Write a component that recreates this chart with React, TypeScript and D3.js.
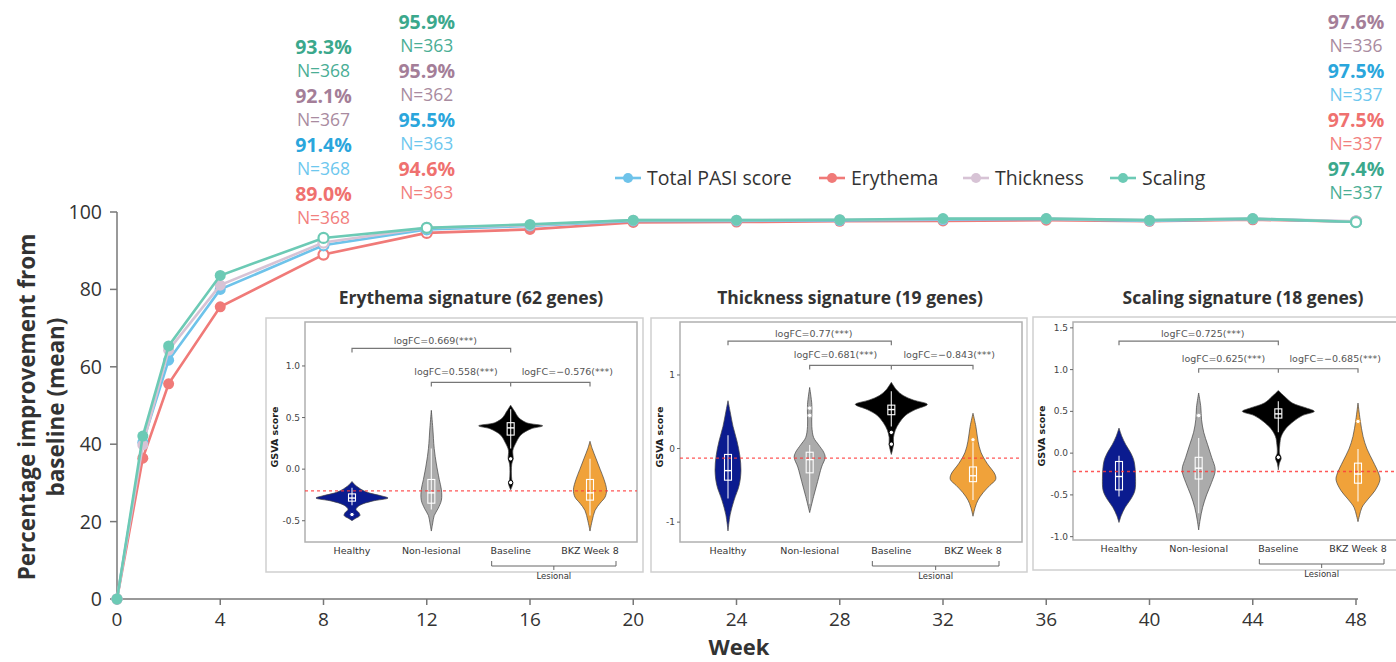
import React from 'react';
import * as d3 from 'd3';

// ---- main chart data ----
const weeks = [0, 1, 2, 4, 8, 12, 16, 20, 24, 28, 32, 36, 40, 44, 48];
const totalPasi = [0, 40.5, 61.7, 80.0, 91.4, 95.5, 96.4, 97.7, 97.7, 97.8, 98.0, 98.2, 97.7, 98.2, 97.5];
const erythema = [0, 36.4, 55.6, 75.5, 89.0, 94.6, 95.5, 97.3, 97.4, 97.6, 97.7, 97.9, 97.6, 98.0, 97.5];
const thickness = [0, 39.8, 64.3, 81.1, 92.1, 95.9, 96.6, 97.9, 97.9, 98.0, 98.2, 98.3, 97.9, 98.3, 97.6];
const scaling = [0, 42.1, 65.4, 83.6, 93.3, 95.9, 96.8, 97.9, 97.9, 98.0, 98.3, 98.3, 97.9, 98.3, 97.4];
const openWeeks = [8, 12, 48];

const seriesNames = ['Total PASI score', 'Erythema', 'Thickness', 'Scaling'];
const seriesValues = [totalPasi, erythema, thickness, scaling];
const lineColors = ['#6ec3ea', '#f07a78', '#d7c3d5', '#6ccab5'];
const pctColors = ['#2aa6dc', '#ef716f', '#a47e98', '#3ba88c'];
const nColors = ['#6dc7ee', '#f2807e', '#a98ba0', '#4aae95'];

const xTicks = [0, 4, 8, 12, 16, 20, 24, 28, 32, 36, 40, 44, 48];
const yTicks = [0, 20, 40, 60, 80, 100];

// annotation columns above the lines
const annotWeeks = [8, 12, 48];
const annotOrder = [[3, 2, 0, 1], [3, 2, 0, 1], [2, 0, 1, 3]];
const annotPct = [
  ['93.3%', '92.1%', '91.4%', '89.0%'],
  ['95.9%', '95.9%', '95.5%', '94.6%'],
  ['97.6%', '97.5%', '97.5%', '97.4%'],
];
const annotN = [
  ['N=368', 'N=367', 'N=368', 'N=368'],
  ['N=363', 'N=362', 'N=363', 'N=363'],
  ['N=336', 'N=337', 'N=337', 'N=337'],
];

// ---- inset data (GSVA violins) ----
const groups = ['Healthy', 'Non-lesional', 'Baseline', 'BKZ Week 8'];
const groupColors = ['#0b1b8f', '#ababab', '#000000', '#f0a23a'];

// [GSVA value, relative density]
const erythemaViolins = [
  [[-0.12, 0], [-0.16, 0.11], [-0.22, 0.39], [-0.26, 0.83], [-0.28, 1], [-0.31, 0.56], [-0.35, 0.22], [-0.39, 0.11], [-0.42, 0.19], [-0.45, 0.22], [-0.48, 0.08], [-0.5, 0]],
  [[0.57, 0], [0.4, 0.04], [0.2, 0.08], [0.05, 0.14], [-0.1, 0.22], [-0.2, 0.28], [-0.3, 0.28], [-0.38, 0.19], [-0.45, 0.08], [-0.52, 0.04], [-0.6, 0]],
  [[0.62, 0], [0.56, 0.11], [0.5, 0.22], [0.45, 0.44], [0.42, 0.89], [0.39, 0.56], [0.33, 0.28], [0.25, 0.14], [0.18, 0.06], [0.1, 0.07], [0.05, 0.03], [-0.1, 0.03], [-0.14, 0.06], [-0.2, 0]],
  [[0.27, 0], [0.2, 0.06], [0.1, 0.17], [0, 0.28], [-0.1, 0.39], [-0.2, 0.46], [-0.27, 0.42], [-0.33, 0.28], [-0.4, 0.14], [-0.5, 0.06], [-0.6, 0]],
];
const erythemaBoxes = [[-0.35, -0.31, -0.28, -0.24, -0.18], [-0.39, -0.33, -0.23, -0.1, 0.2], [0.2, 0.33, 0.4, 0.45, 0.58], [-0.45, -0.3, -0.23, -0.1, 0.1]];
const erythemaOutliers = [[-0.44], [], [0.1, -0.13], []];
const erythemaTicks = [1.0, 0.5, 0.0, -0.5];
const erythemaTickLabels = ['1.0', '0.5', '0.0', '-0.5'];
const erythemaRef = -0.21;
const erythemaLogFC = ['logFC=0.669(***)', 'logFC=0.558(***)', 'logFC=\u22120.576(***)'];
const erythemaBrackets = [1.17, 0.84];

const thicknessViolins = [
  [[0.65, 0], [0.5, 0.06], [0.3, 0.14], [0.1, 0.25], [-0.1, 0.33], [-0.3, 0.36], [-0.5, 0.31], [-0.7, 0.17], [-0.9, 0.06], [-1.12, 0]],
  [[0.83, 0], [0.6, 0.06], [0.45, 0.06], [0.3, 0.06], [0.15, 0.11], [0.05, 0.25], [-0.05, 0.39], [-0.12, 0.43], [-0.25, 0.33], [-0.45, 0.22], [-0.65, 0.11], [-0.87, 0]],
  [[0.9, 0], [0.8, 0.14], [0.72, 0.33], [0.66, 0.61], [0.6, 1], [0.53, 0.67], [0.45, 0.39], [0.35, 0.22], [0.25, 0.11], [0.15, 0.06], [0.05, 0.06], [-0.08, 0]],
  [[0.48, 0], [0.3, 0.08], [0.1, 0.14], [-0.05, 0.22], [-0.2, 0.39], [-0.35, 0.61], [-0.42, 0.63], [-0.5, 0.47], [-0.6, 0.28], [-0.7, 0.14], [-0.8, 0.06], [-0.92, 0]],
];
const thicknessBoxes = [[-0.68, -0.43, -0.3, -0.08, 0.18], [-0.75, -0.33, -0.15, -0.05, 0.05], [0.3, 0.46, 0.53, 0.59, 0.78], [-0.7, -0.45, -0.37, -0.25, 0.1]];
const thicknessOutliers = [[], [0.45, 0.55], [0.22, 0.06], [0.12]];
const thicknessTicks = [1, 0, -1];
const thicknessTickLabels = ['1', '0', '-1'];
const thicknessRef = -0.13;
const thicknessLogFC = ['logFC=0.77(***)', 'logFC=0.681(***)', 'logFC=\u22120.843(***)'];
const thicknessBrackets = [1.46, 1.13];

const scalingViolins = [
  [[0.3, 0], [0.2, 0.08], [0.1, 0.19], [0, 0.33], [-0.1, 0.42], [-0.3, 0.46], [-0.45, 0.44], [-0.55, 0.33], [-0.65, 0.17], [-0.75, 0.06], [-0.83, 0]],
  [[0.72, 0], [0.55, 0.06], [0.4, 0.08], [0.25, 0.14], [0.1, 0.25], [-0.05, 0.36], [-0.2, 0.46], [-0.35, 0.36], [-0.5, 0.22], [-0.65, 0.11], [-0.8, 0.04], [-0.92, 0]],
  [[0.75, 0], [0.68, 0.17], [0.6, 0.39], [0.54, 0.78], [0.5, 1], [0.45, 0.67], [0.38, 0.42], [0.3, 0.22], [0.2, 0.08], [0.1, 0.04], [0, 0.03], [-0.06, 0.08], [-0.12, 0.03], [-0.2, 0]],
  [[0.6, 0], [0.4, 0.06], [0.2, 0.14], [0.05, 0.25], [-0.1, 0.42], [-0.25, 0.58], [-0.32, 0.61], [-0.45, 0.47], [-0.55, 0.28], [-0.65, 0.11], [-0.75, 0.04], [-0.82, 0]],
];
const scalingBoxes = [[-0.52, -0.44, -0.28, -0.1, -0.03], [-0.72, -0.31, -0.18, -0.05, 0.18], [0.25, 0.42, 0.47, 0.53, 0.62], [-0.58, -0.36, -0.25, -0.12, 0.05]];
const scalingOutliers = [[], [0.45], [-0.05], [0.38]];
const scalingTicks = [1.5, 1.0, 0.5, 0.0, -0.5, -1.0];
const scalingTickLabels = ['1.5', '1.0', '0.5', '0.0', '-0.5', '-1.0'];
const scalingRef = -0.22;
const scalingLogFC = ['logFC=0.725(***)', 'logFC=0.625(***)', 'logFC=\u22120.685(***)'];
const scalingBrackets = [1.34, 1.01];

const insets = [
  {
    title: 'Erythema signature (62 genes)', violins: erythemaViolins, boxes: erythemaBoxes, outliers: erythemaOutliers,
    ticks: erythemaTicks, tickLabels: erythemaTickLabels, ref: erythemaRef, logFC: erythemaLogFC, brackets: erythemaBrackets,
    frame: [266, 318, 643, 572], plot: [305, 322, 637, 542], yDomain: [-0.706, 1.426], catRange: [352, 590], titleX: 471,
  },
  {
    title: 'Thickness signature (19 genes)', violins: thicknessViolins, boxes: thicknessBoxes, outliers: thicknessOutliers,
    ticks: thicknessTicks, tickLabels: thicknessTickLabels, ref: thicknessRef, logFC: thicknessLogFC, brackets: thicknessBrackets,
    frame: [651, 318, 1027, 572], plot: [680, 322, 1022, 542], yDomain: [-1.27, 1.72], catRange: [728, 973], titleX: 850,
  },
  {
    title: 'Scaling signature (18 genes)', violins: scalingViolins, boxes: scalingBoxes, outliers: scalingOutliers,
    ticks: scalingTicks, tickLabels: scalingTickLabels, ref: scalingRef, logFC: scalingLogFC, brackets: scalingBrackets,
    frame: [1033, 317, 1400, 570], plot: [1073, 322, 1400, 540], yDomain: [-1.04, 1.57], catRange: [1119, 1358], titleX: 1243,
  },
];

const mainFont = '"Open Sans", "Noto Sans", sans-serif';
const smallFont = '"DejaVu Sans", sans-serif';

function Inset({ p }: { p: any }) {
  const y = d3.scaleLinear().domain(p.yDomain).range([p.plot[3], p.plot[1]]);
  const x = d3.scalePoint<string>().domain(groups).range(p.catRange);
  const w = d3.scaleLinear().domain([0, 1]).range([0, 36]);
  const [fx0, fy0, fx1, fy1] = p.frame;
  const [px0, py0, px1, py1] = p.plot;
  const bx = (g: string) => x(g) as number;
  const b1 = y(p.brackets[0]);
  const b2 = y(p.brackets[1]);
  const lesL = bx(groups[2]) - 19;
  const lesR = bx(groups[3]) + 26;
  const lesY = py1 + 24;
  return (
    <g>
      <text x={p.titleX} y={304} textAnchor="middle" fontFamily={mainFont} fontWeight="bold" fontSize={17.5} fill="#333">{p.title}</text>
      <rect x={fx0} y={fy0} width={fx1 - fx0} height={fy1 - fy0} fill="#fff" stroke="#cfcfcf" strokeWidth={1.5} />
      <rect x={px0} y={py0} width={px1 - px0} height={py1 - py0} fill="#fff" stroke="#b0b0b0" strokeWidth={1.5} />
      {p.ticks.map((t: number, i: number) => (
        <g key={i}>
          <line x1={px0 - 3} x2={px0} y1={y(t)} y2={y(t)} stroke="#666" />
          <text x={px0 - 5} y={y(t) + 3} textAnchor="end" fontFamily={smallFont} fontSize={9} fill="#444">{p.tickLabels[i]}</text>
        </g>
      ))}
      <text transform={`translate(${fx0 + 12},${(py0 + py1) / 2 + 5}) rotate(-90)`} textAnchor="middle" fontFamily={smallFont} fontWeight="bold" fontSize={9.5} fill="#222">GSVA score</text>
      {groups.map((g, i) => {
        const area = d3.area<number[]>()
          .y(d => y(d[0]))
          .x0(d => bx(g) - w(d[1]))
          .x1(d => bx(g) + w(d[1]))
          .curve(d3.curveCatmullRom.alpha(0.5));
        const [lo, q1, med, q3, hi] = p.boxes[i];
        return (
          <g key={g}>
            <path d={area(p.violins[i]) || ''} fill={groupColors[i]} stroke="#444" strokeWidth={0.7} />
            <line x1={bx(g)} x2={bx(g)} y1={y(lo)} y2={y(hi)} stroke="#fff" strokeWidth={1.2} opacity={0.85} />
            <rect x={bx(g) - 3.5} y={y(q3)} width={7} height={y(q1) - y(q3)} fill="none" stroke="#fff" strokeWidth={1.1} />
            <line x1={bx(g) - 3.5} x2={bx(g) + 3.5} y1={y(med)} y2={y(med)} stroke="#fff" strokeWidth={1.4} />
            {p.outliers[i].map((o: number, k: number) => (
              <circle key={k} cx={bx(g)} cy={y(o)} r={2.2} fill="#fff" stroke={groupColors[i] === '#000000' ? '#000' : groupColors[i]} strokeWidth={1} />
            ))}
            <text x={bx(g)} y={py1 + 12} textAnchor="middle" fontFamily={smallFont} fontSize={9.5} fill="#333">{g}</text>
          </g>
        );
      })}
      <line x1={px0} x2={px1} y1={y(p.ref)} y2={y(p.ref)} stroke="#ff3b3b" strokeWidth={1.3} strokeDasharray="3,3" opacity={0.85} />
      <path d={`M${bx(groups[0])},${b1 + 4}V${b1}H${bx(groups[2])}V${b1 + 4}`} fill="none" stroke="#777" strokeWidth={1.2} />
      <path d={`M${bx(groups[1])},${b2 + 4}V${b2}H${bx(groups[3])}V${b2 + 4}M${bx(groups[2])},${b2}V${b2 + 4}`} fill="none" stroke="#777" strokeWidth={1.2} />
      <text x={(bx(groups[0]) + bx(groups[2])) / 2 + 4} y={b1 - 4} textAnchor="middle" fontFamily={smallFont} fontSize={9.5} fill="#555">{p.logFC[0]}</text>
      <text x={(bx(groups[1]) + bx(groups[2])) / 2 - 15} y={b2 - 7} textAnchor="middle" fontFamily={smallFont} fontSize={9.5} fill="#555">{p.logFC[1]}</text>
      <text x={(bx(groups[2]) + bx(groups[3])) / 2 + 17} y={b2 - 7} textAnchor="middle" fontFamily={smallFont} fontSize={9.5} fill="#555">{p.logFC[2]}</text>
      <path d={`M${lesL},${lesY - 5}V${lesY}H${lesR}V${lesY - 5}M${(lesL + lesR) / 2},${lesY}V${lesY + 4}`} fill="none" stroke="#666" strokeWidth={1} />
      <text x={(lesL + lesR) / 2} y={lesY + 13} textAnchor="middle" fontFamily={smallFont} fontSize={8.5} fill="#333">Lesional</text>
    </g>
  );
}

export default function App() {
  const width = 1396;
  const height = 662;
  const x = d3.scaleLinear().domain([0, 48]).range([117, 1356]);
  const y = d3.scaleLinear().domain([0, 100]).range([599, 212]);
  const line = d3.line<number>().x((_, i) => x(weeks[i])).y(d => y(d));
  const drawOrder = [1, 0, 2, 3];
  const legendX = [628, 832, 976, 1123];

  return (
    <svg width={width} height={height} style={{ position: 'absolute', left: 0, top: 0, background: '#fff' }}>
      {/* axes */}
      <line x1={117} x2={117} y1={y(100)} y2={y(0)} stroke="#777" strokeWidth={1.5} />
      <line x1={117} x2={1358} y1={y(0)} y2={y(0)} stroke="#777" strokeWidth={1.5} />
      {yTicks.map(t => (
        <g key={t}>
          <line x1={110} x2={117} y1={y(t)} y2={y(t)} stroke="#777" strokeWidth={1.5} />
          <text x={102} y={y(t) + 7} textAnchor="end" fontFamily={mainFont} fontSize={19.5} fill="#333">{t}</text>
        </g>
      ))}
      {xTicks.map(t => (
        <g key={t}>
          <line x1={x(t)} x2={x(t)} y1={y(0)} y2={y(0) + 6} stroke="#777" strokeWidth={1.5} />
          <text x={x(t)} y={626} textAnchor="middle" fontFamily={mainFont} fontSize={19} fill="#333">{t}</text>
        </g>
      ))}
      <text x={739} y={655} textAnchor="middle" fontFamily={mainFont} fontWeight="bold" fontSize={22} fill="#333">Week</text>
      <text transform="translate(35,407) rotate(-90)" textAnchor="middle" fontFamily={mainFont} fontWeight="bold" fontSize={22.5} fill="#333">Percentage improvement from</text>
      <text transform="translate(64,407) rotate(-90)" textAnchor="middle" fontFamily={mainFont} fontWeight="bold" fontSize={22.5} fill="#333">baseline (mean)</text>

      {/* series */}
      {drawOrder.map(s => (
        <g key={s}>
          <path d={line(seriesValues[s]) || ''} fill="none" stroke={lineColors[s]} strokeWidth={2.6} />
          {seriesValues[s].map((v, i) => {
            const open = openWeeks.includes(weeks[i]);
            return (
              <circle key={i} cx={x(weeks[i])} cy={y(v)} r={open ? 5 : 5.5}
                fill={open ? '#fff' : lineColors[s]} stroke={lineColors[s]} strokeWidth={open ? 2.2 : 0} />
            );
          })}
        </g>
      ))}

      {/* insets */}
      {insets.map((p, i) => <Inset key={i} p={p} />)}

      {/* legend */}
      {seriesNames.map((n, i) => (
        <g key={n}>
          <line x1={legendX[i] - 13} x2={legendX[i] + 13} y1={178} y2={178} stroke={lineColors[i]} strokeWidth={2.6} />
          <circle cx={legendX[i]} cy={178} r={5} fill={lineColors[i]} />
          <text x={legendX[i] + 19} y={185} fontFamily={mainFont} fontSize={19.5} fill="#333">{n}</text>
        </g>
      ))}

      {/* annotations */}
      {annotWeeks.map((wk, c) => {
        const top = c === 0 ? 47 : 22;
        return annotOrder[c].map((s, r) => (
          <g key={`${c}-${r}`}>
            <text x={x(wk)} y={top + r * 49 + 7} textAnchor="middle" fontFamily={mainFont} fontWeight="bold" fontSize={19.5} fill={pctColors[s]}>{annotPct[c][r]}</text>
            <text x={x(wk)} y={top + r * 49 + 30} textAnchor="middle" fontFamily={mainFont} fontSize={17.5} fill={nColors[s]}>{annotN[c][r]}</text>
          </g>
        ));
      })}
    </svg>
  );
}
